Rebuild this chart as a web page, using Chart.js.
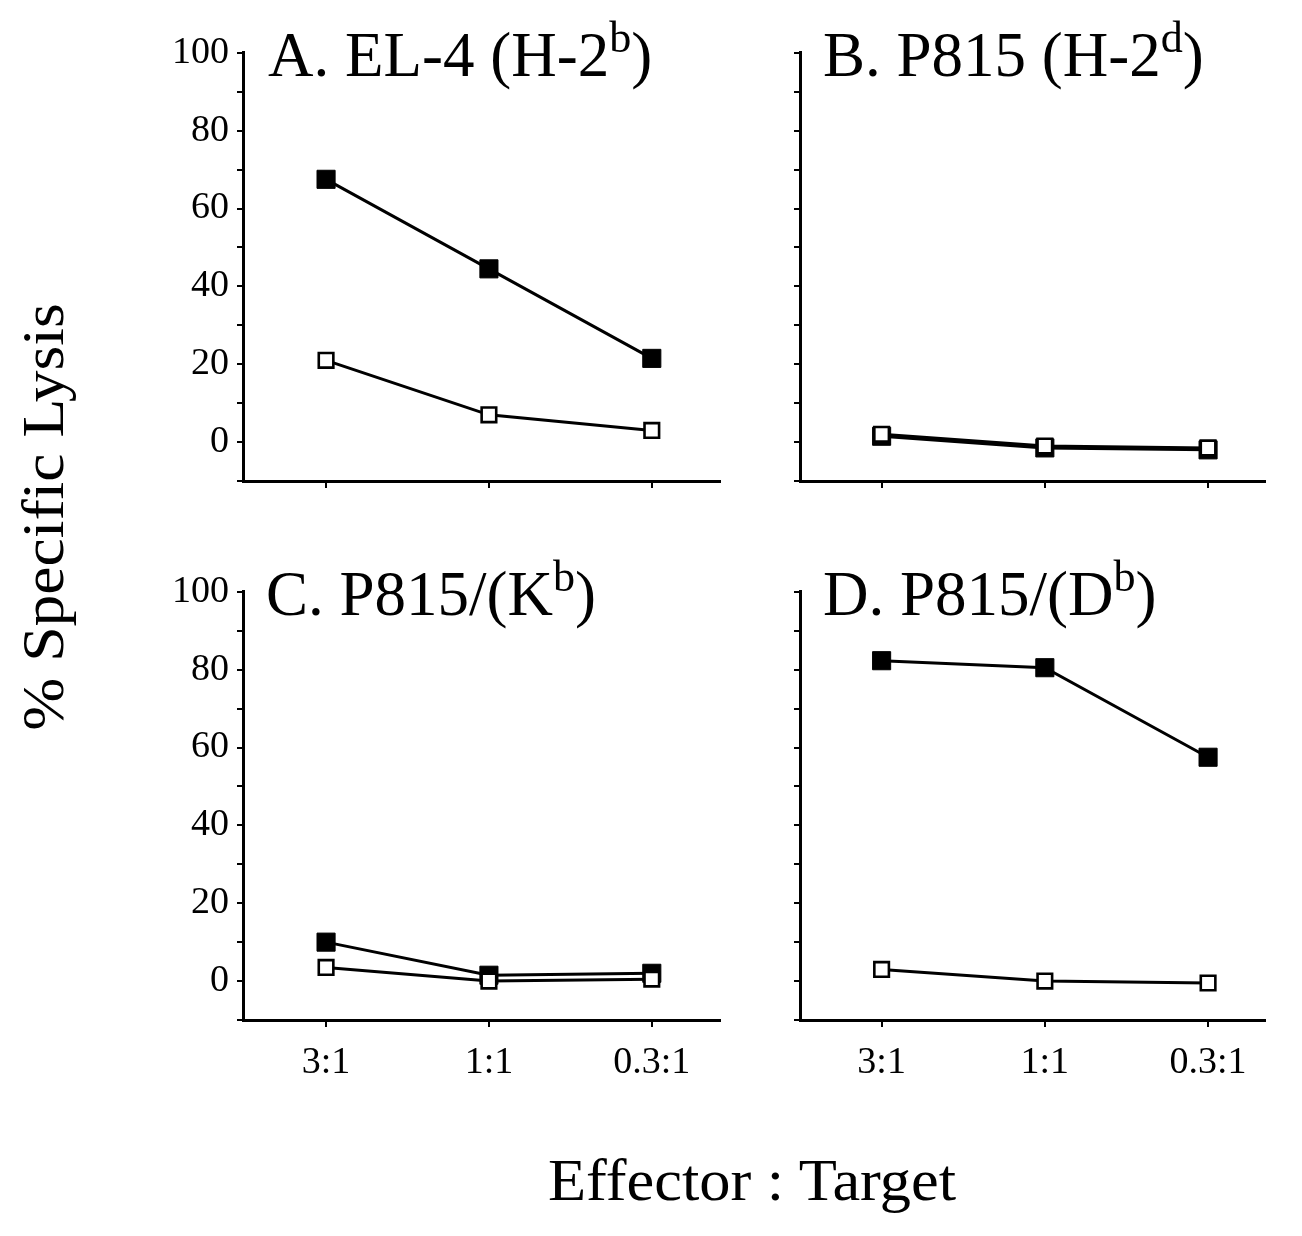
<!DOCTYPE html>
<html><head><meta charset="utf-8">
<script src="https://cdn.jsdelivr.net/npm/chart.js@4.4.1/dist/chart.umd.min.js"></script>
<style>
html,body{margin:0;padding:0;background:#fff;}
#wrap{position:relative;width:1302px;height:1236px;overflow:hidden;font-family:"Liberation Serif","Times New Roman",serif;color:#000;}
canvas{position:absolute;}
.ttl{position:absolute;font-size:63px;white-space:nowrap;line-height:1;}
.sup{font-size:0.7em;position:relative;top:-0.55em;}
.ytitle{position:absolute;left:43px;top:517px;font-size:60px;white-space:nowrap;line-height:1;transform:translate(-50%,-50%) rotate(-90deg) scaleX(1.06);}
.xtitle{position:absolute;left:752px;top:1150px;font-size:60px;white-space:nowrap;line-height:1;transform:translateX(-50%) scaleX(1.04);}
</style>
</head><body>
<div id="wrap">
  <canvas id="cA"></canvas><canvas id="cB"></canvas><canvas id="cC"></canvas><canvas id="cD"></canvas>
  <div class="ttl" style="left:268px;top:24px;">A. EL-4 (H-2<span class="sup">b</span>)</div>
  <div class="ttl" style="left:823px;top:24px;">B. P815 (H-2<span class="sup">d</span>)</div>
  <div class="ttl" style="left:266px;top:563px;">C. P815/(K<span class="sup">b</span>)</div>
  <div class="ttl" style="left:823px;top:563px;">D. P815/(D<span class="sup">b</span>)</div>
  <div class="ytitle">% Specific Lysis</div>
  <div class="xtitle">Effector : Target</div>
</div>
<script>
// ---- data ----
const categories = ['3:1', '1:1', '0.3:1'];
const yTickValues = [-10, 0, 10, 20, 30, 40, 50, 60, 70, 80, 90, 100];
const yTickLabels = [0, 20, 40, 60, 80, 100];

const aFilled = [67.5, 44.5, 21.5];
const aOpen   = [21, 7, 3];
const bFilled = [1.5, -1.5, -2];
const bOpen   = [2, -1, -1.5];
const cFilled = [10, 1.5, 2];
const cOpen   = [3.5, 0, 0.5];
const dFilled = [82.3, 80.5, 57.5];
const dOpen   = [3, 0, -0.5];

// ---- layout ----
const panels = [
  {id:'cA', filled:aFilled, open:aOpen, area:[243, 53, 720, 481],   xr:[-0.51, 2.42], yLabels:true,  xLabels:false},
  {id:'cB', filled:bFilled, open:bOpen, area:[800, 53, 1265, 481],  xr:[-0.50, 2.35], yLabels:false, xLabels:false},
  {id:'cC', filled:cFilled, open:cOpen, area:[243, 592, 720, 1020], xr:[-0.51, 2.42], yLabels:true,  xLabels:true},
  {id:'cD', filled:dFilled, open:dOpen, area:[800, 592, 1265, 1020],xr:[-0.50, 2.35], yLabels:false, xLabels:true}
];

const FONT = '"Liberation Serif", "Times New Roman", serif';
const XH = 80;

function toPoints(arr){ return arr.map((v,i)=>({x:i, y:v})); }

function config(p, yW){
  return {
    type: 'line',
    data: {
      datasets: [
        {data: toPoints(p.open), borderColor:'#000', borderWidth:3, backgroundColor:'#fff',
         pointStyle:'rect', pointRadius:10.3, pointBorderWidth:2.6, pointBackgroundColor:'#fff', pointBorderColor:'#000', order:0, clip:false},
        {data: toPoints(p.filled), borderColor:'#000', borderWidth:3, backgroundColor:'#000',
         pointStyle:'rect', pointRadius:12.8, pointBorderWidth:1, pointBackgroundColor:'#000', pointBorderColor:'#000', order:1, clip:false}
      ]
    },
    options: {
      responsive:false, maintainAspectRatio:false, animation:false, devicePixelRatio:1,
      layout:{padding:{top:12, right:12, left:0, bottom:0}},
      plugins:{legend:{display:false}, tooltip:{enabled:false}, title:{display:false}},
      scales:{
        x:{
          type:'linear', min:p.xr[0], max:p.xr[1],
          afterBuildTicks: s => { s.ticks = categories.map((c,i)=>({value:i})); },
          afterFit: s => { s.height = XH; },
          border:{display:true, color:'#000', width:3},
          grid:{display:true, drawOnChartArea:false, drawTicks:true, tickLength:7, color:'#000', lineWidth:2},
          ticks:{display:p.xLabels, color:'#000', padding:13, maxRotation:0, autoSkip:false,
                 font:{family:FONT, size:38}, callback: v => categories[v]}
        },
        y:{
          type:'linear', min:-10, max:100,
          afterBuildTicks: s => { s.ticks = yTickValues.map(v=>({value:v})); },
          afterFit: s => { s.width = yW; },
          border:{display:true, color:'#000', width:3},
          grid:{display:true, drawOnChartArea:false, drawTicks:true, tickLength:6, color:'#000', lineWidth:2},
          ticks:{display:true, color:'#000', padding:8, autoSkip:false,
                 font:{family:FONT, size:38},
                 callback: v => (p.yLabels && yTickLabels.includes(v)) ? String(v) : ''}
        }
      }
    }
  };
}

panels.forEach(p => {
  const yW = p.yLabels ? 100 : 30;
  const [l,t,r,b] = p.area;
  const cv = document.getElementById(p.id);
  // first pass: measure the offsets of the chart area inside the canvas
  let w0 = (r - l) + 150, h0 = (b - t) + 150;
  cv.width = w0; cv.height = h0;
  cv.style.width = w0 + 'px'; cv.style.height = h0 + 'px';
  let ch = new Chart(cv, config(p, yW));
  const ca = ch.chartArea;
  const dl = ca.left, dt = ca.top, dr = w0 - ca.right, db = h0 - ca.bottom;
  ch.destroy();
  // second pass: size the canvas so that the chart area lands at the target box
  const w = Math.round((r - l) + dl + dr), h = Math.round((b - t) + dt + db);
  cv.width = w; cv.height = h;
  cv.style.width = w + 'px'; cv.style.height = h + 'px';
  cv.style.left = Math.round(l - dl) + 'px'; cv.style.top = Math.round(t - dt) + 'px';
  new Chart(cv, config(p, yW));
});
</script>
</body></html>
